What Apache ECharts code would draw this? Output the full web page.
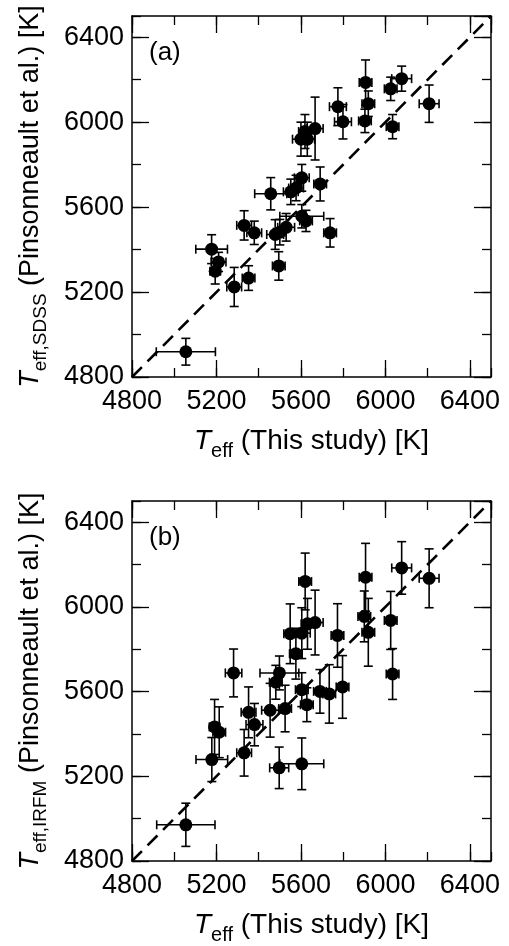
<!DOCTYPE html>
<html>
<head>
<meta charset="utf-8">
<script src="https://cdn.jsdelivr.net/npm/echarts@6/dist/echarts.min.js"></script>
<style>
  html, body { margin: 0; padding: 0; background: #fff; }
  #chart { width: 509px; height: 946px; }
</style>
</head>
<body>
<div id="chart"></div>
<script>
// Panel (a): T_eff this study vs. SDSS
const teffA = [5055, 5177, 5194, 5210, 5284, 5352, 5331, 5379, 5457, 5478, 5500, 5530, 5495,
  5552, 5577, 5604, 5691, 5600, 5619, 5630, 5667, 5604, 5624, 5738, 5775, 5799, 5906, 5919,
  5903, 6025, 6077, 6034, 6207];
const teffErrA = [140, 75, 25, 35, 35, 30, 35, 35, 76, 40, 30, 40, 30,
  35, 35, 35, 30, 40, 30, 35, 38, 104, 30, 30, 40, 40, 30, 30,
  30, 30, 47, 30, 47];
const sdss = [4919, 5402, 5298, 5342, 5224, 5266, 5514, 5479, 5663, 5471, 5482, 5505, 5323,
  5672, 5690, 5738, 5709, 5920, 5956, 5920, 5970, 5557, 5535, 5479, 6073, 6002, 6187, 6087,
  6006, 6157, 6205, 5979, 6087];
const sdssErr = [63, 68, 60, 45, 92, 58, 69, 55, 76, 70, 60, 65, 67,
  60, 60, 63, 80, 80, 80, 80, 148, 55, 50, 67, 89, 81, 106, 60,
  55, 55, 59, 57, 88];

// Panel (b): T_eff this study vs. IRFM
const teffB = [5055, 5178, 5191, 5213, 5281, 5331, 5352, 5380, 5454, 5481, 5498, 5525, 5497,
  5549, 5576, 5604, 5620, 5631, 5667, 5604, 5604, 5628, 5690, 5734, 5773, 5797, 5906, 5900,
  5919, 6025, 6034, 6077, 6207];
const teffErrB = [138, 75, 25, 30, 39, 35, 35, 40, 40, 30, 92, 30, 45,
  30, 30, 40, 30, 30, 38, 104, 30, 30, 30, 30, 30, 30, 30, 30,
  30, 30, 30, 47, 47];
const irfm = [4971, 5279, 5433, 5408, 5688, 5311, 5502, 5444, 5512, 5644, 5688, 5520, 5240,
  5873, 5779, 5876, 6120, 5920, 5926, 5259, 5609, 5538, 5601, 5589, 5865, 5622, 6140, 5955,
  5880, 5936, 5683, 6184, 6135];
const irfmErr = [102, 104, 130, 120, 113, 110, 120, 100, 127, 80, 80, 110, 98,
  141, 120, 120, 134, 120, 153, 122, 80, 80, 103, 138, 150, 148, 160, 120,
  160, 137, 120, 124, 139];

const axisRange = [4800, 6500];
const oneToOne = [4800, 6500];
const panelLabels = ['(a)', '(b)'];
const yNames = [
  '{t|T}{s|eff,SDSS} (Pinsonneault et al.) [K]',
  '{t|T}{s|eff,IRFM} (Pinsonneault et al.) [K]'
];
const xName = '{t|T}{s|eff} (This study) [K]';

const FONT = 'Liberation Sans, Arial, sans-serif';
const tops = [16, 501];

const chart = echarts.init(document.getElementById('chart'), null, { renderer: 'canvas' });

function nameStyle(size) {
  return {
    fontSize: size, color: '#000', fontFamily: FONT,
    rich: {
      t: { fontSize: size, fontStyle: 'italic', fontFamily: FONT, color: '#000' },
      s: { fontSize: Math.round(size * 0.72), fontFamily: FONT, color: '#000', padding: [20, 0, 0, 0] }
    }
  };
}

// four axes per side: major+labels, minor, mirrored major, mirrored minor
function sideAxes(dim, g) {
  const out = [];
  const sides = dim === 'x' ? ['bottom', 'top'] : ['left', 'right'];
  sides.forEach((pos, si) => {
    [400, 200].forEach((step, mi) => {
      const main = si === 0 && mi === 0;
      const ax = {
        type: 'value', gridIndex: g, position: pos,
        min: axisRange[0], max: axisRange[1], interval: step,
        splitLine: { show: false },
        axisLine: { show: mi === 0, onZero: false, lineStyle: { color: '#000', width: 1.5 } },
        axisTick: { show: true, inside: true, length: mi === 0 ? 17 : 9, lineStyle: { color: '#000', width: 1.3 } },
        axisLabel: {
          show: main, showMaxLabel: false, color: '#000', fontSize: 27, fontFamily: FONT,
          margin: dim === 'x' ? 11 : 8,
          formatter: v => String(v)
        }
      };
      if (main && dim === 'x') {
        Object.assign(ax, { name: xName, nameLocation: 'middle', nameGap: 44, nameTextStyle: nameStyle(28) });
      }
      if (main && dim === 'y') {
        Object.assign(ax, { name: yNames[g], nameLocation: 'middle', nameRotate: 90, nameGap: 82, nameTextStyle: nameStyle(27) });
      }
      out.push(ax);
    });
  });
  return out;
}

function renderErrorBar(params, api) {
  const x = api.value(0), y = api.value(1), ex = api.value(2), ey = api.value(3);
  const c = api.coord([x, y]);
  const l = api.coord([x - ex, y]), r = api.coord([x + ex, y]);
  const t = api.coord([x, y + ey]), b = api.coord([x, y - ey]);
  const cap = 4.5;
  const style = { stroke: '#000', lineWidth: 1.6 };
  const seg = (x1, y1, x2, y2) => ({ type: 'line', shape: { x1, y1, x2, y2 }, style });
  return {
    type: 'group',
    children: [
      seg(l[0], c[1], r[0], c[1]),
      seg(l[0], c[1] - cap, l[0], c[1] + cap),
      seg(r[0], c[1] - cap, r[0], c[1] + cap),
      seg(c[0], t[1], c[0], b[1]),
      seg(c[0] - cap, t[1], c[0] + cap, t[1]),
      seg(c[0] - cap, b[1], c[0] + cap, b[1])
    ]
  };
}

const panels = [
  { x: teffA, xe: teffErrA, y: sdss, ye: sdssErr },
  { x: teffB, xe: teffErrB, y: irfm, ye: irfmErr }
];

const series = [];
panels.forEach((p, g) => {
  const axIdx = { xAxisIndex: g * 4, yAxisIndex: g * 4 };
  series.push({
    type: 'line', ...axIdx, silent: true, symbol: 'none', z: 1,
    data: oneToOne.map(v => [v, v]),
    lineStyle: { color: '#000', width: 2.6, type: [14, 8] }
  });
  series.push({
    type: 'custom', ...axIdx, z: 2,
    renderItem: renderErrorBar,
    encode: { x: 0, y: 1 },
    data: p.x.map((v, i) => [v, p.y[i], p.xe[i], p.ye[i]])
  });
  series.push({
    type: 'scatter', ...axIdx, z: 3,
    symbol: 'circle', symbolSize: 13,
    itemStyle: { color: '#000', opacity: 1 },
    data: p.x.map((v, i) => [v, p.y[i]])
  });
});

const option = {
  animation: false,
  backgroundColor: '#fff',
  grid: tops.map(t => ({ left: 132, top: t, width: 359, height: 361, containLabel: false })),
  xAxis: [...sideAxes('x', 0), ...sideAxes('x', 1)],
  yAxis: [...sideAxes('y', 0), ...sideAxes('y', 1)],
  graphic: panelLabels.map((txt, g) => ({
    type: 'text', left: 149, top: tops[g] + 24,
    style: { text: txt, fontSize: 26, fontFamily: FONT, fill: '#000' }
  })),
  series: series
};

chart.setOption(option);
</script>
</body>
</html>
